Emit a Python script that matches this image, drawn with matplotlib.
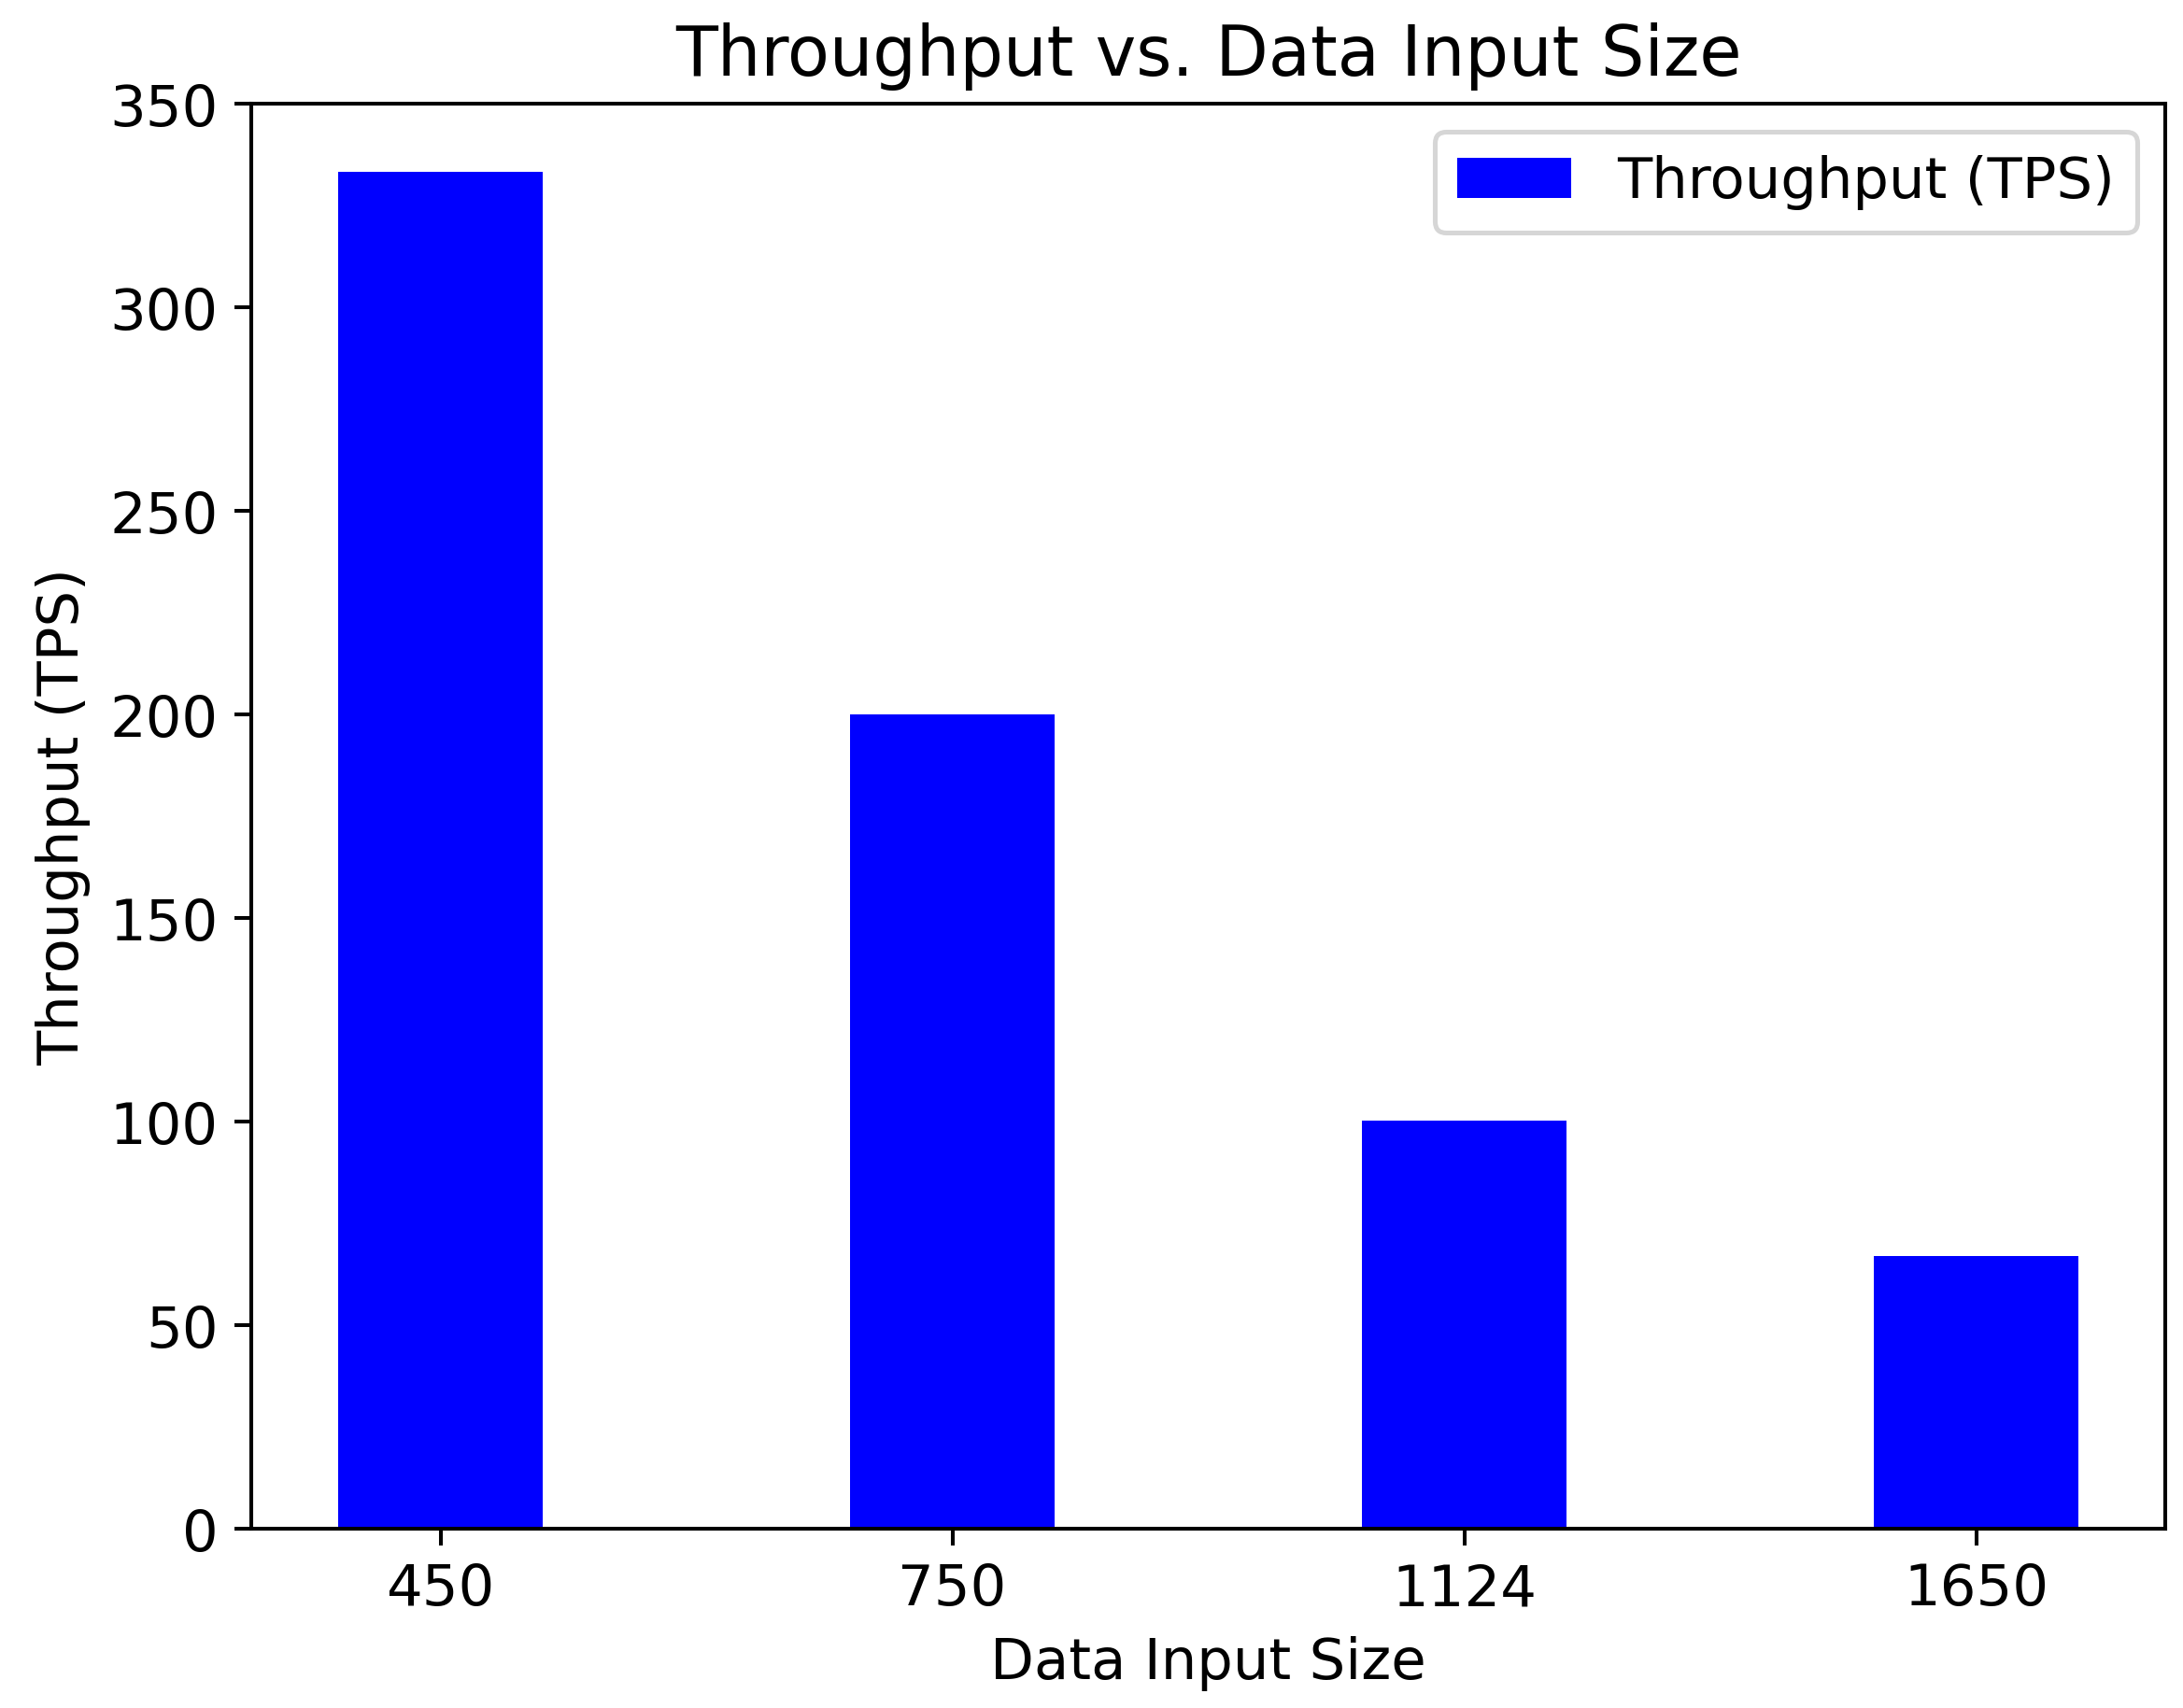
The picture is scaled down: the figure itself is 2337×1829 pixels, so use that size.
import matplotlib
matplotlib.use("Agg")
import matplotlib.pyplot as plt

categories = ["450", "750", "1124", "1650"]
throughput = [333.3, 200.0, 100.3, 67.0]

plt.rcParams["font.size"] = 12
fig = plt.figure(figsize=(6.4, 5.011), dpi=365.16)
ax = fig.add_axes([0.115, 0.105, 0.877, 0.834])
ax.bar(categories, throughput, width=0.4, color="blue", label="Throughput (TPS)")
ax.set_ylim(0, 350)
ax.set_xlabel("Data Input Size", fontsize=12)
ax.set_ylabel("Throughput (TPS)", fontsize=12)
ax.set_title("Throughput vs. Data Input Size", fontsize=14.5)
ax.tick_params(labelsize=12)
ax.legend(loc="upper right", fontsize=12)
fig.savefig("out.png")
